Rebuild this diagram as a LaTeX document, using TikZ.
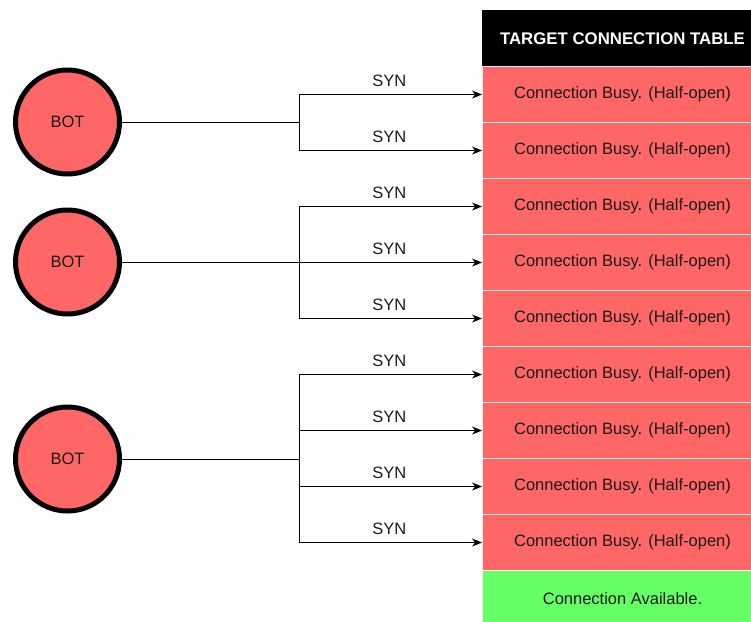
\documentclass[tikz,border=0pt]{standalone}
\usepackage{fontspec}
\setmainfont{Liberation Sans}
\usetikzlibrary{arrows.meta}
\definecolor{busy}{HTML}{FF6666}
\definecolor{free}{HTML}{66FF66}
\definecolor{txt}{HTML}{1A1A1A}
\tikzset{
  bot/.style={circle, draw=black, line width=5pt, fill=busy, minimum size=104pt, inner sep=0pt, font=\fontsize{16.5}{18}\selectfont, text=txt},
  cell/.style={rectangle, draw=white!90!busy, line width=1pt, minimum width=280pt, minimum height=56pt, anchor=north west, inner sep=0pt, font=\fontsize{16.5}{18}\selectfont, text=txt},
  busycell/.style={cell, fill=busy},
  freecell/.style={cell, fill=free},
  headcell/.style={cell, fill=black, draw=black, text=white, font=\bfseries\fontsize{16.8}{18}\selectfont},
  link/.style={draw=black, line width=1pt},
  syn/.style={link, -{Stealth[length=10pt,width=8pt]}},
  synlabel/.style={font=\fontsize{16.5}{18}\selectfont, text=txt, above, inner sep=7.5pt}
}
\begin{document}
\begin{tikzpicture}[x=1pt,y=-1pt]
\useasboundingbox (0,0) rectangle (751,621);
\clip (0,0) rectangle (751,621);

% connection table
\node[headcell] (head) at (482,10) {TARGET CONNECTION TABLE};
\foreach \i in {1,...,9} {
  \node[busycell] (r\i) at (482,{10+56*\i}) {Connection Busy. (Half-open)};
}
\node[freecell] (r10) at (482,570) {Connection Available.};

% bots
\node[bot] (b1) at (67.5,122) {BOT};
\node[bot] (b2) at (67.5,262) {BOT};
\node[bot] (b3) at (67.5,459) {BOT};

% fork points
\coordinate (f1) at (299,122);
\coordinate (f2) at (299,262);
\coordinate (f3) at (299,459);

\draw[link] (b1) -- (f1);
\draw[link] (b2) -- (f2);
\draw[link] (b3) -- (f3);

% SYN flows from each bot to table rows
\foreach \f/\r in {f1/r1, f1/r2, f2/r3, f2/r4, f2/r5, f3/r6, f3/r7, f3/r8, f3/r9} {
  \draw[syn] (\f) |- (\r.west) node[synlabel, pos=0.747] {SYN};
}
\end{tikzpicture}
\end{document}
